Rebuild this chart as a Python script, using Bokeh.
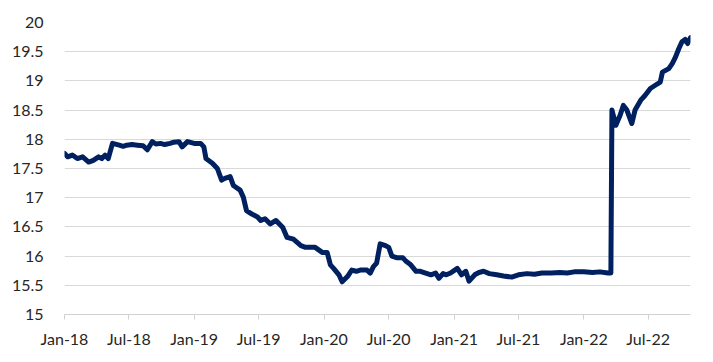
from datetime import datetime
import pandas as pd
from bokeh.plotting import figure
from bokeh.models import Range1d, FixedTicker, ColumnDataSource
from bokeh.embed import file_html
from bokeh.resources import INLINE

dates = [
    "2018-01-01", "2018-01-10", "2018-01-23", "2018-02-06", "2018-02-21", "2018-03-10",
    "2018-03-23", "2018-04-07", "2018-04-16", "2018-04-25", "2018-05-04", "2018-05-16",
    "2018-06-04", "2018-06-15", "2018-06-25", "2018-07-10", "2018-07-25", "2018-08-10",
    "2018-08-22", "2018-09-05", "2018-09-15", "2018-09-28", "2018-10-10",
    "2018-10-25", "2018-11-05", "2018-11-19", "2018-11-28", "2018-12-13", "2019-01-01", "2019-01-19",
    "2019-01-28", "2019-02-03", "2019-02-21", "2019-03-07", "2019-03-19", "2019-03-28",
    "2019-04-12", "2019-04-21", "2019-05-10", "2019-05-19", "2019-05-28", "2019-06-12",
    "2019-06-28", "2019-07-07", "2019-07-19", "2019-08-03", "2019-08-19", "2019-09-07",
    "2019-09-19", "2019-10-07", "2019-10-28", "2019-11-10", "2019-12-07", "2019-12-28",
    "2020-01-10", "2020-01-19", "2020-01-28", "2020-02-12", "2020-02-21", "2020-03-07",
    "2020-03-19", "2020-04-01", "2020-04-12", "2020-05-01", "2020-05-10", "2020-05-19", "2020-05-28",
    "2020-06-07", "2020-06-22", "2020-07-01", "2020-07-10", "2020-07-25", "2020-08-10",
    "2020-08-19", "2020-09-01", "2020-09-16", "2020-09-28", "2020-10-13", "2020-10-28",
    "2020-11-10", "2020-11-19", "2020-12-01", "2020-12-10", "2020-12-22", "2021-01-10", "2021-01-22",
    "2021-02-03", "2021-02-12", "2021-02-28", "2021-03-12", "2021-03-25", "2021-04-10",
    "2021-05-01", "2021-05-20", "2021-06-12", "2021-07-01", "2021-07-25", "2021-08-15",
    "2021-09-05", "2021-10-01", "2021-10-25", "2021-11-15", "2021-12-05", "2022-01-01",
    "2022-01-25", "2022-02-15", "2022-03-10", "2022-03-18", "2022-03-21",
    "2022-04-01", "2022-04-13", "2022-04-22", "2022-05-02", "2022-05-16", "2022-05-25",
    "2022-06-10", "2022-06-22", "2022-07-07", "2022-07-22", "2022-08-04", "2022-08-10",
    "2022-08-28", "2022-09-07", "2022-09-16", "2022-09-25", "2022-10-04", "2022-10-13",
    "2022-10-20", "2022-10-28",
]
rates = [
    17.76, 17.70, 17.73, 17.67, 17.70, 17.61,
    17.64, 17.70, 17.67, 17.73, 17.67, 17.93,
    17.90, 17.88, 17.90, 17.91, 17.90, 17.89,
    17.82, 17.96, 17.92, 17.93, 17.91,
    17.93, 17.95, 17.96, 17.87, 17.96, 17.93, 17.93,
    17.87, 17.67, 17.59, 17.50, 17.30, 17.33,
    17.36, 17.21, 17.13, 17.01, 16.78, 16.72,
    16.67, 16.61, 16.64, 16.55, 16.61, 16.49,
    16.32, 16.29, 16.18, 16.15, 16.15, 16.06,
    16.06, 15.85, 15.79, 15.68, 15.56, 15.65,
    15.76, 15.74, 15.76, 15.76, 15.71, 15.82, 15.88,
    16.21, 16.18, 16.15, 16.00, 15.97, 15.97,
    15.91, 15.85, 15.74, 15.74, 15.71, 15.68,
    15.71, 15.62, 15.70, 15.68, 15.71, 15.79, 15.68,
    15.74, 15.57, 15.68, 15.72, 15.74, 15.70,
    15.68, 15.66, 15.64, 15.68, 15.70, 15.69,
    15.71, 15.71, 15.72, 15.71, 15.73, 15.73,
    15.72, 15.73, 15.71, 15.71, 18.50,
    18.24, 18.41, 18.58, 18.50, 18.27, 18.50,
    18.67, 18.75, 18.87, 18.93, 18.98, 19.15,
    19.21, 19.30, 19.41, 19.55, 19.67, 19.71,
    19.64, 19.74,
]

x_tick_dates = ["2018-01-01", "2018-07-01", "2019-01-01", "2019-07-01", "2020-01-01",
                "2020-07-01", "2021-01-01", "2021-07-01", "2022-01-01", "2022-07-01"]
x_tick_labels = ["Jan-18", "Jul-18", "Jan-19", "Jul-19", "Jan-20",
                 "Jul-20", "Jan-21", "Jul-21", "Jan-22", "Jul-22"]
y_ticks = [15, 15.5, 16, 16.5, 17, 17.5, 18, 18.5, 19, 19.5, 20]
y_tick_labels = ["15", "15.5", "16", "16.5", "17", "17.5", "18", "18.5", "19", "19.5", "20"]

src = ColumnDataSource(dict(x=pd.to_datetime(dates), y=rates))

p = figure(width=705, height=354, x_axis_type="datetime",
           output_backend="svg", toolbar_location=None,
           x_range=Range1d(datetime(2018, 1, 1), datetime(2022, 10, 28)),
           y_range=Range1d(15, 20),
           min_border_left=64, min_border_right=15, min_border_top=22, min_border_bottom=40)
p.outline_line_color = None
p.background_fill_color = "white"
p.border_fill_color = "white"

p.line("x", "y", source=src, line_color="#002060", line_width=5, line_join="round", line_cap="round")

x_ms = [pd.Timestamp(d).value / 1e6 for d in x_tick_dates]
p.xaxis.ticker = FixedTicker(ticks=x_ms)
p.xaxis.major_label_overrides = {t: l for t, l in zip(x_ms, x_tick_labels)}
p.yaxis.ticker = FixedTicker(ticks=y_ticks)
p.yaxis.major_label_overrides = {t: l for t, l in zip(y_ticks, y_tick_labels)}

p.xgrid.grid_line_color = None
p.ygrid.grid_line_color = "#d9d9d9"
p.ygrid.grid_line_width = 1

for ax in (p.xaxis, p.yaxis):
    ax.major_label_text_font = "Lato"
    ax.major_label_text_font_size = "16px"
    ax.major_label_text_color = "#262626"
    ax.minor_tick_line_color = None

p.yaxis.axis_line_color = None
p.yaxis.major_tick_line_color = None
p.yaxis.major_label_standoff = 15

p.xaxis.axis_line_color = "#d0d0d0"
p.xaxis.major_tick_line_color = "#d0d0d0"
p.xaxis.major_tick_out = 5
p.xaxis.major_tick_in = 0
p.xaxis.major_label_standoff = 9

open("out.html", "w").write(file_html(p, INLINE))
